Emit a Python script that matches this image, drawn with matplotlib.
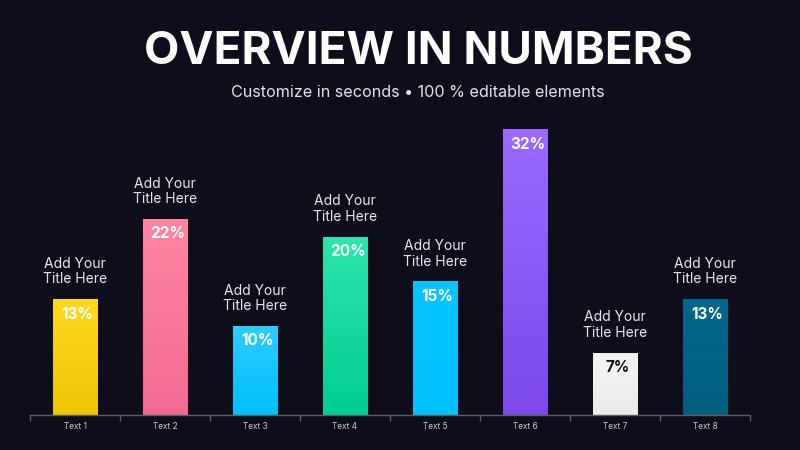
import matplotlib
matplotlib.use("Agg")
import matplotlib.pyplot as plt
import numpy as np
from matplotlib.colors import LinearSegmentedColormap

# data
categories = ["Text 1", "Text 2", "Text 3", "Text 4", "Text 5", "Text 6", "Text 7", "Text 8"]
values = [13, 22, 10, 20, 15, 32, 7, 13]
bar_titles = ["Add Your\nTitle Here"] * 5 + [""] + ["Add Your\nTitle Here"] * 2
top_colors = ["#ffd824", "#ff86a2", "#30cbff", "#2ee4ad", "#08c4ff", "#9c6aff", "#f4f4f4", "#03678a"]
bottom_colors = ["#ecc600", "#f26a92", "#00bffb", "#00cd92", "#00bff9", "#7c48e8", "#ebebeb", "#005e7e"]
label_colors = ["white", "white", "white", "white", "white", "white", "#111111", "white"]

BG = "#0d0e19"
plt.rcParams["font.family"] = ["Inter", "DejaVu Sans"]

fig = plt.figure(figsize=(8, 4.5), dpi=100, facecolor=BG)
ax = fig.add_axes([30 / 800, 35 / 450, 720 / 800, 415 / 450])
ax.set_facecolor(BG)

x = np.arange(len(categories))
bars = ax.bar(x, values, width=0.5, color="none", zorder=2)

# vertical gradient per bar, clipped to the bar rectangle
grad = np.linspace(0, 1, 256).reshape(-1, 1)
for i, b in enumerate(bars):
    cmap = LinearSegmentedColormap.from_list("g%d" % i, [bottom_colors[i], top_colors[i]])
    im = ax.imshow(grad, cmap=cmap, aspect="auto", origin="lower",
                   extent=[b.get_x(), b.get_x() + b.get_width(), 0, b.get_height()],
                   zorder=1)
    im.set_clip_path(b)

ax.set_xlim(-0.5, len(categories) - 0.5)
ax.set_ylim(0, 46.5)

for i, v in enumerate(values):
    ax.text(x[i] + 0.03, v - 1.7, "%d%%" % v, ha="center", va="center",
            fontsize=11, fontweight="bold", color=label_colors[i], zorder=3)
    if bar_titles[i]:
        ax.text(x[i], v + 1.4, bar_titles[i], ha="center", va="bottom",
                fontsize=10, color="#e6e6ea", linespacing=1.15, zorder=3)

# axis styling
for s in ["top", "right", "left"]:
    ax.spines[s].set_visible(False)
ax.spines["bottom"].set_color("#5c5d66")
ax.spines["bottom"].set_linewidth(1)
ax.set_yticks([])
ax.set_xticks(x)
ax.set_xticklabels(categories, fontsize=6, color="#c8c8cc")
ax.tick_params(axis="x", which="major", length=0, pad=5)
ax.set_xticks(np.arange(-0.5, len(categories)), minor=True)
ax.tick_params(axis="x", which="minor", length=4, color="#5c5d66", width=1)

fig.text(0.5225, 0.8844, "OVERVIEW IN NUMBERS", ha="center", va="center",
         fontsize=33, fontweight="bold", color="white")
fig.text(0.5225, 0.795, "Customize in seconds \u2022 100 % editable elements",
         ha="center", va="center", fontsize=11.6, color="#e2e2e6")

fig.savefig("out.png", dpi=100, facecolor=BG)
